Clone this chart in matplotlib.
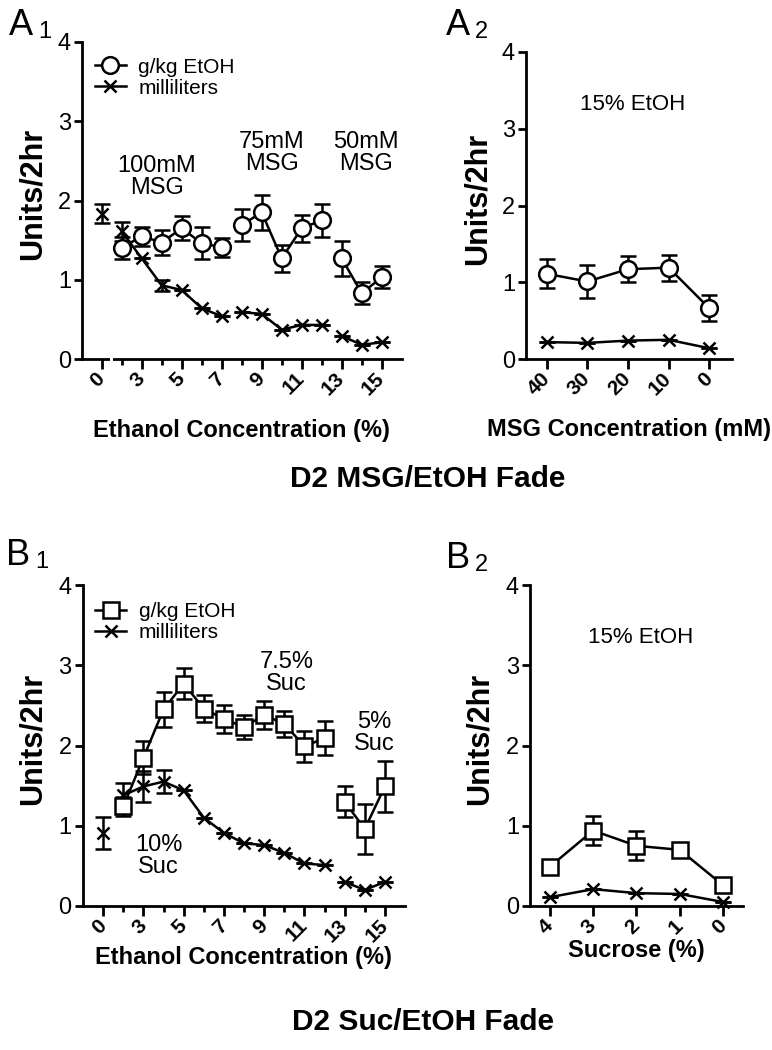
import numpy as np
import matplotlib
matplotlib.use("Agg")
from matplotlib import pyplot as plt
from matplotlib.lines import Line2D

plt.rcParams['font.family'] = ['Liberation Sans', 'DejaVu Sans']

# ---- data ----
# A1: MSG/EtOH fade, ethanol concentration (%)
etoh_conc = [0, 2, 3, 4, 5, 6, 7, 8, 9, 10, 11, 12, 13, 14, 15]
etoh_ticklabels = ['0', '', '3', '', '5', '', '7', '', '9', '', '11', '', '13', '', '15']

a1_gkg = [np.nan, 1.40, 1.55, 1.47, 1.65, 1.46, 1.41, 1.69, 1.85, 1.27, 1.65, 1.75, 1.27, 0.83, 1.03]
a1_gkg_err = [0, 0.14, 0.12, 0.16, 0.15, 0.20, 0.12, 0.20, 0.22, 0.17, 0.17, 0.21, 0.22, 0.14, 0.14]
a1_ml = [1.83, 1.61, 1.27, 0.93, 0.87, 0.64, 0.54, 0.59, 0.57, 0.37, 0.43, 0.43, 0.29, 0.18, 0.21]
a1_ml_err = [0.12, 0.12, 0, 0.07, 0, 0, 0, 0, 0, 0, 0, 0, 0, 0, 0]
a1_segments = [(0, 1), (1, 7), (7, 12), (12, 15)]

# A2: 15% EtOH, MSG concentration (mM)
msg_conc = ['40', '30', '20', '10', '0']
a2_gkg = [1.11, 1.01, 1.17, 1.19, 0.66]
a2_gkg_err = [0.19, 0.22, 0.17, 0.17, 0.17]
a2_ml = [0.22, 0.21, 0.24, 0.25, 0.14]

# B1: Suc/EtOH fade
b1_gkg = [np.nan, 1.24, 1.85, 2.45, 2.77, 2.46, 2.33, 2.23, 2.38, 2.27, 1.99, 2.09, 1.30, 0.96, 1.49]
b1_gkg_err = [0, 0.12, 0.21, 0.22, 0.19, 0.17, 0.18, 0.15, 0.17, 0.16, 0.19, 0.21, 0.19, 0.31, 0.32]
b1_ml = [0.91, 1.38, 1.49, 1.55, 1.44, 1.10, 0.91, 0.78, 0.76, 0.66, 0.53, 0.51, 0.30, 0.20, 0.30]
b1_ml_err = [0.20, 0.15, 0.19, 0.14, 0, 0, 0, 0, 0, 0, 0, 0, 0, 0, 0]
b1_segments = [(0, 1), (1, 12), (12, 15)]

# B2: 15% EtOH, sucrose (%)
suc_conc = ['4', '3', '2', '1', '0']
b2_gkg = [0.49, 0.94, 0.75, 0.70, 0.26]
b2_gkg_err = [0.08, 0.18, 0.18, 0.04, 0.04]
b2_ml = [0.11, 0.21, 0.16, 0.15, 0.05]

W, H = 772, 1050
fig = plt.figure(figsize=(W / 100, H / 100), dpi=100)


def px_axes(x0, y0, x1, y1):
    return fig.add_axes([x0 / W, 1 - y1 / H, (x1 - x0) / W, (y1 - y0) / H])


def fig_text(x, y, s, **kw):
    fig.text(x / W, 1 - y / H, s, **kw)


def style(ax, xlim, ticklabels, major, ylabel_x, xlabel_y, xlabel):
    for side in ['top', 'right']:
        ax.spines[side].set_visible(False)
    for side in ['left', 'bottom']:
        ax.spines[side].set_linewidth(2)
    ax.set_xlim(*xlim)
    ax.set_ylim(0, 4)
    ax.set_yticks([0, 1, 2, 3, 4])
    ax.tick_params(axis='y', length=6, width=2, labelsize=17, pad=2)
    pos = np.arange(len(ticklabels))
    ax.set_xticks(pos[major])
    ax.set_xticklabels([ticklabels[i] for i in pos[major]], rotation=45, ha='right',
                       va='center', rotation_mode='anchor', fontweight='bold', fontsize=15)
    minor = [i for i in pos if i not in pos[major]]
    ax.set_xticks(minor, minor=True)
    ax.tick_params(axis='x', which='major', length=7, width=2, pad=5)
    ax.tick_params(axis='x', which='minor', length=4, width=2)
    ax.set_ylabel('Units/2hr', fontsize=22, fontweight='bold', va='center')
    ax.yaxis.set_label_coords(ylabel_x, 0.52)
    ax.set_xlabel(xlabel, fontsize=17, fontweight='bold', va='center')
    ax.xaxis.set_label_coords(0.5, xlabel_y)


def draw_series(ax, y, err, segments, marker, ms):
    pos = np.arange(len(y))
    y = np.asarray(y, dtype=float)
    err = np.asarray(err, dtype=float)
    for a, b in segments:
        ax.errorbar(pos[a:b], y[a:b], yerr=err[a:b], color='black', lw=1.8,
                    marker=marker, ms=ms, mfc='white', mec='black', mew=1.8,
                    capsize=6, capthick=1.8, elinewidth=1.8, clip_on=False, zorder=3)


def add_legend(ax, marker, ms, anchor):
    handles = [Line2D([], [], color='black', lw=1.8, marker=marker, ms=ms, mfc='white', mew=1.8),
               Line2D([], [], color='black', lw=1.8, marker='x', ms=9, mew=1.8)]
    ax.legend(handles, ['g/kg EtOH', 'milliliters'], loc='upper left', bbox_to_anchor=anchor,
              frameon=False, fontsize=15, handlelength=1.5, handletextpad=0.6,
              labelspacing=0.1, borderaxespad=0.2)


ann = dict(ha='center', va='center', fontsize=17, linespacing=1.0)

# ---- A1 ----
ax1 = px_axes(82, 42, 401.7, 359)
draw_series(ax1, a1_ml, a1_ml_err, a1_segments, 'x', 9)
draw_series(ax1, a1_gkg, a1_gkg_err, a1_segments[1:], 'o', 12)
style(ax1, (-0.985, 15.0), etoh_ticklabels, [0, 2, 4, 6, 8, 10, 12, 14], -0.155, -0.225,
      'Ethanol Concentration (%)')
# axis break between 0 and 2
ax1.plot([0.42, 0.57], [0, 0], color='white', lw=4, clip_on=False, zorder=5,
         solid_capstyle='butt')
add_legend(ax1, 'o', 12, (0.0, 0.99))
ax1.text(2.77, 2.30, '100mM\nMSG', **ann)
ax1.text(8.5, 2.60, '75mM\nMSG', **ann)
ax1.text(13.2, 2.60, '50mM\nMSG', **ann)

# ---- A2 ----
ax2 = px_axes(526, 52, 731.7, 359)
draw_series(ax2, a2_ml, [0] * 5, [(0, 5)], 'x', 9)
draw_series(ax2, a2_gkg, a2_gkg_err, [(0, 5)], 'o', 12)
style(ax2, (-0.51, 4.55), msg_conc, [0, 1, 2, 3, 4], -0.235, -0.23,
      'MSG Concentration (mM)')
ax2.text(0.52, 0.83, '15% EtOH', transform=ax2.transAxes, ha='center', va='center', fontsize=16)

# ---- B1 ----
ax3 = px_axes(82.7, 585, 405, 906)
draw_series(ax3, b1_ml, b1_ml_err, b1_segments, 'x', 9)
draw_series(ax3, b1_gkg, b1_gkg_err, b1_segments[1:], 's', 11)
style(ax3, (-1.02, 15.0), etoh_ticklabels, [0, 2, 4, 6, 8, 10, 12, 14], -0.155, -0.16,
      'Ethanol Concentration (%)')
add_legend(ax3, 's', 11, (0.0, 0.985))
ax3.text(2.75, 0.62, '10%\nSuc', **ann)
ax3.text(9.1, 2.90, '7.5%\nSuc', **ann)
ax3.text(13.45, 2.16, '5%\nSuc', **ann)

# ---- B2 ----
ax4 = px_axes(530, 585, 743.3, 906)
draw_series(ax4, b2_ml, [0] * 5, [(0, 5)], 'x', 9)
draw_series(ax4, b2_gkg, b2_gkg_err, [(0, 5)], 's', 11)
style(ax4, (-0.46, 4.47), suc_conc, [0, 1, 2, 3, 4], -0.235, -0.14, 'Sucrose (%)')
ax4.text(0.52, 0.835, '15% EtOH', transform=ax4.transAxes, ha='center', va='center', fontsize=16)

# panel letters and group titles
for x, y, main, sub in [(9, 8, 'A', '1'), (446, 8, 'A', '2'), (6, 538, 'B', '1'), (446, 541, 'B', '2')]:
    fig_text(x, y, main, ha='left', va='top', fontsize=26)
    fig_text(x + 29, y + 13, sub, ha='left', va='top', fontsize=17)

fig_text(428, 479, 'D2 MSG/EtOH Fade', ha='center', va='center', fontsize=21.5, fontweight='bold')
fig_text(423, 1022, 'D2 Suc/EtOH Fade', ha='center', va='center', fontsize=21.5, fontweight='bold')

fig.savefig('out.png', dpi=100, facecolor='white')
